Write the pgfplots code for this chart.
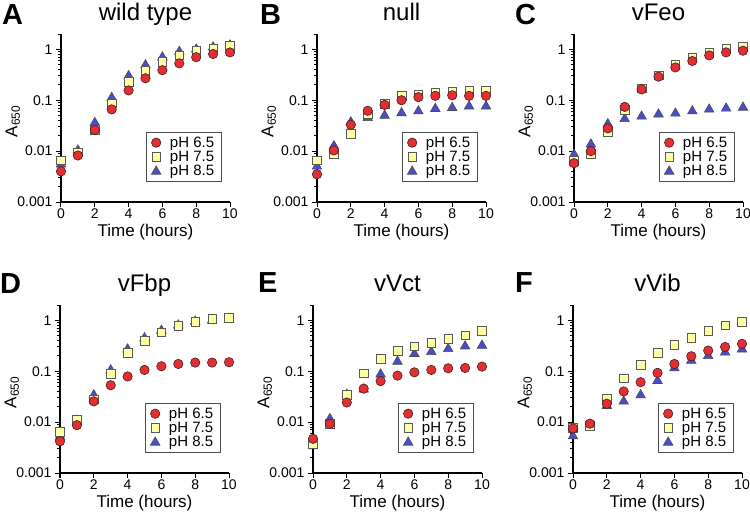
\documentclass[border=0pt]{standalone}
\usepackage{fontspec}
\setmainfont{Liberation Sans}
\usepackage{pgfplots}
\usepackage{pgfplotstable}
\pgfplotsset{compat=1.18}

\definecolor{cred}{RGB}{232,45,50}
\definecolor{cyel}{RGB}{255,255,165}
\definecolor{cblu}{RGB}{75,75,205}
\definecolor{edgec}{RGB}{60,35,35}

% columns: t = time (h), c = pH 6.5, s = pH 7.5, r = pH 8.5
\pgfplotstableread{
t c s r
0 0.004 0.0066 0.0055
1 0.0082 0.0095 0.0104
2 0.026 0.026 0.036
3 0.066 0.087 0.112
4 0.156 0.23 0.30
5 0.27 0.38 0.49
6 0.39 0.57 0.70
7 0.53 0.77 0.90
8 0.70 0.93 1.0
9 0.81 1.05 1.1
10 0.87 1.16 1.2
}\dataA
\pgfplotstableread{
t c s r
0 0.0035 0.0066 0.005
1 0.0103 0.0086 0.0126
2 0.033 0.022 0.037
3 0.062 0.053 0.045
4 0.081 0.085 0.05
5 0.10 0.123 0.056
6 0.115 0.13 0.061
7 0.122 0.14 0.068
8 0.125 0.15 0.071
9 0.122 0.155 0.076
10 0.122 0.157 0.076
}\dataB
\pgfplotstableread{
t c s r
0 0.0058 0.0064 0.0086
1 0.010 0.0088 0.0136
2 0.028 0.024 0.034
3 0.074 0.064 0.043
4 0.163 0.17 0.048
5 0.29 0.31 0.053
6 0.44 0.49 0.055
7 0.59 0.69 0.061
8 0.76 0.86 0.066
9 0.87 1.05 0.069
10 0.94 1.13 0.072
}\dataC
\pgfplotstableread{
t c s r
0 0.0042 0.0064 0.0052
1 0.0087 0.011 0.0108
2 0.0256 0.028 0.034
3 0.053 0.09 0.105
4 0.079 0.23 0.27
5 0.106 0.40 0.45
6 0.125 0.58 0.63
7 0.139 0.78 0.80
8 0.148 0.94 0.95
9 0.148 1.06 1.0
10 0.15 1.13 1.05
}\dataD
\pgfplotstableread{
t c s r
0 0.0047 0.0037 0.0034
1 0.0093 0.0092 0.0116
2 0.0243 0.034 0.035
3 0.0455 0.091 0.044
4 0.064 0.174 0.087
5 0.082 0.25 0.155
6 0.095 0.31 0.22
7 0.106 0.36 0.24
8 0.114 0.43 0.275
9 0.116 0.51 0.31
10 0.123 0.62 0.32
}\dataE
\pgfplotstableread{
t c s r
0 0.0075 0.0078 0.0053
1 0.0093 0.0084 0.009
2 0.023 0.029 0.021
3 0.040 0.073 0.0255
4 0.061 0.134 0.034
5 0.093 0.23 0.065
6 0.139 0.335 0.115
7 0.197 0.45 0.162
8 0.255 0.62 0.20
9 0.30 0.80 0.235
10 0.345 0.93 0.27
}\dataF

\pgfplotsset{
 myPanel/.style={
  scale only axis, width=169pt, height=168pt,
  xmin=0, xmax=10,
  axis x line*=bottom, axis y line*=left,
  axis line style={line width=1.3pt, -},
  every tick/.style={line width=1pt, black},
  tick align=outside,
  major tick length=5pt, minor tick length=3pt,
  xtick={0,2,4,6,8,10}, xticklabels={0,2,4,6,8,10},
  ytick={0.001,0.01,0.1,1}, yticklabels={0.001,0.01,0.1,1},
  minor ytick={0.002,0.003,0.004,0.005,0.006,0.007,0.008,0.009,0.02,0.03,0.04,0.05,0.06,0.07,0.08,0.09,0.2,0.3,0.4,0.5,0.6,0.7,0.8,0.9,2},
  tick label style={font=\fontsize{14}{16}\selectfont},
  xticklabel style={yshift=2pt},
  xlabel={Time (hours)}, ylabel={A\textsubscript{650}},
  label style={font=\fontsize{17}{19}\selectfont},
  xlabel style={yshift=1pt},
  ylabel style={at={(axis description cs:-0.285,0.48)}, anchor=center},
  title style={font=\fontsize{24}{26}\selectfont, at={(0.5,1)}, anchor=base, yshift=8pt},
  clip=false,
  legend style={at={(0.95,0.12)}, anchor=south east, draw=black!70, line width=0.8pt,
    font=\fontsize{15}{17}\selectfont, inner xsep=5pt, inner ysep=2pt, row sep=-1.5pt,
    /tikz/every odd column/.append style={column sep=7pt}},
  legend cell align=left,
  reverse legend,
 },
 mkC/.style={only marks, mark=*, mark size=4.7pt, mark options={fill=cred, draw=edgec, line width=0.6pt}},
 mkS/.style={only marks, mark=square*, mark size=4.3pt, mark options={fill=cyel, draw=black!65, line width=0.6pt}},
 mkR/.style={only marks, mark=triangle*, mark size=5.5pt, mark options={fill=cblu, draw=black!70, line width=0.6pt}},
}

\newcommand{\panelplots}[1]{%
  \addplot[mkR] table[x=t,y=r]{#1}; \addlegendentry{pH 8.5}
  \addplot[mkS] table[x=t,y=s]{#1}; \addlegendentry{pH 7.5}
  \addplot[mkC] table[x=t,y=c]{#1}; \addlegendentry{pH 6.5}
}

\begin{document}
\begin{tikzpicture}
\useasboundingbox (0,0) rectangle (750pt,-519pt);

\begin{axis}[ymode=log, ymin=0.001, ymax=2, myPanel, at={(61pt,-202pt)}, anchor=south west, title={wild type}]
\panelplots{\dataA}
\end{axis}
\begin{axis}[ymode=log, ymin=0.001, ymax=2, myPanel, at={(317pt,-202pt)}, anchor=south west, title={null}]
\panelplots{\dataB}
\end{axis}
\begin{axis}[ymode=log, ymin=0.001, ymax=2, myPanel, at={(574pt,-202pt)}, anchor=south west, title={vFeo}]
\panelplots{\dataC}
\end{axis}
\begin{axis}[ymode=log, ymin=0.001, ymax=2, myPanel, at={(60pt,-473pt)}, anchor=south west, title={vFbp}]
\panelplots{\dataD}
\end{axis}
\begin{axis}[ymode=log, ymin=0.001, ymax=2, myPanel, at={(313pt,-473pt)}, anchor=south west, title={vVct}]
\panelplots{\dataE}
\end{axis}
\begin{axis}[ymode=log, ymin=0.001, ymax=2, myPanel, at={(573pt,-473pt)}, anchor=south west, title={vVib}]
\panelplots{\dataF}
\end{axis}

\begin{scope}[every node/.style={font=\fontsize{29}{31}\selectfont\bfseries, inner sep=0pt, anchor=base west}]
\node at (2pt,-25pt) {A};
\node at (260pt,-25pt) {B};
\node at (515pt,-25pt) {C};
\node at (0pt,-293pt) {D};
\node at (258pt,-292pt) {E};
\node at (515pt,-292pt) {F};
\end{scope}
\end{tikzpicture}
\end{document}
